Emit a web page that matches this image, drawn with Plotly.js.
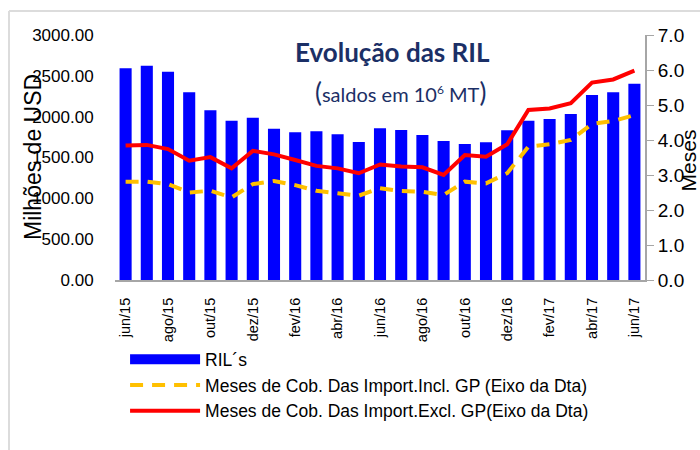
<!DOCTYPE html>
<html>
<head>
<meta charset="utf-8">
<script src="https://cdn.plot.ly/plotly-3.0.1.min.js"></script>
<style>html,body{margin:0;padding:0;background:#fff;}#chart{width:700px;height:450px;}</style>
</head>
<body>
<div id="chart"></div>
<script>
var months = ["jun/15","jul/15","ago/15","set/15","out/15","nov/15","dez/15","jan/16","fev/16","mar/16","abr/16","mai/16","jun/16","jul/16","ago/16","set/16","out/16","nov/16","dez/16","jan/17","fev/17","mar/17","abr/17","mai/17","jun/17"];
var tickMonths = ["jun/15","ago/15","out/15","dez/15","fev/16","abr/16","jun/16","ago/16","out/16","dez/16","fev/17","abr/17","jun/17"];
var ril = [2592,2624,2551,2298,2078,1951,1988,1853,1808,1820,1784,1690,1857,1837,1776,1702,1665,1686,1833,1951,1971,2033,2265,2298,2404];
var mesesIncl = [2.81,2.81,2.74,2.50,2.55,2.36,2.74,2.83,2.71,2.55,2.48,2.41,2.62,2.54,2.52,2.43,2.81,2.76,3.05,3.81,3.88,4.00,4.46,4.54,4.71];
var mesesExcl = [3.84,3.86,3.74,3.41,3.51,3.19,3.69,3.59,3.43,3.26,3.19,3.05,3.30,3.24,3.22,3.00,3.57,3.52,3.88,4.86,4.90,5.05,5.64,5.73,5.98];
var names = ["RIL´s","Meses de Cob. Das Import.Incl. GP (Eixo da Dta)","Meses de Cob. Das Import.Excl. GP(Eixo da Dta)"];

var sans = "Liberation Sans, Arial, sans-serif";
var navy = "#1b2f66";

var traces = [
  {type:"bar", x:months, y:ril, marker:{color:"#0000ff"}, showlegend:false, hoverinfo:"skip"},
  {type:"scatter", mode:"lines", x:[null], y:[null], name:names[0], line:{color:"#0000ff", width:11}, legendgroup:"a"},
  {type:"scatter", mode:"lines", x:months, y:mesesIncl, yaxis:"y2", name:names[1], line:{color:"#ffc000", width:4, dash:"13px,9px"}, legendgroup:"b"},
  {type:"scatter", mode:"lines", x:months, y:mesesExcl, yaxis:"y2", name:names[2], line:{color:"#ff0000", width:4}, legendgroup:"c"}
];

var layout = {
  width:700, height:450,
  margin:{l:115, r:55, t:35, b:170},
  paper_bgcolor:"#ffffff", plot_bgcolor:"#ffffff",
  bargap:0.43,
  showlegend:true,
  font:{family:sans, color:"#000"},
  xaxis:{type:"category", tickmode:"array", tickvals:tickMonths, ticktext:tickMonths, tickangle:-90,
    tickfont:{family:sans, size:14.5, color:"#000"}, ticks:"outside", ticklen:10, tickcolor:"rgba(0,0,0,0)",
    showline:true, linecolor:"#a6a6a6", linewidth:2, showgrid:false, zeroline:false, fixedrange:true},
  yaxis:{range:[0,3000], dtick:500, tickformat:".2f", tickfont:{family:sans, size:17, color:"#000"},
    ticks:"outside", ticklen:17, tickcolor:"rgba(0,0,0,0)", showgrid:false, zeroline:false, showline:false},
  yaxis2:{range:[0,7], dtick:1, tickformat:".1f", overlaying:"y", side:"right",
    tickfont:{family:sans, size:19, color:"#000"}, ticks:"outside", ticklen:7, tickcolor:"#a6a6a6",
    showline:true, linecolor:"#a6a6a6", linewidth:2, showgrid:false, zeroline:false},
  legend:{x:0.019, y:-0.25, xanchor:"left", yanchor:"top", orientation:"v", itemwidth:70,
    font:{family:sans, size:17.5, color:"#000"}, tracegroupgap:0, bgcolor:"rgba(0,0,0,0)"},
  annotations:[
    {xref:"paper", yref:"paper", x:0.5245, y:0.93, xanchor:"center", yanchor:"middle", showarrow:false,
      text:"<b>Evolução das RIL</b>", font:{family:"Lato, Open Sans, sans-serif", size:26, color:navy}},
    {xref:"paper", yref:"paper", x:0.538, y:0.767, xanchor:"center", yanchor:"middle", showarrow:false,
      text:"<span style='font-size:26px'>(</span>saldos em 10<sup><span style='font-size:12px'>6</span></sup> MT<span style='font-size:26px'>)</span>",
      font:{family:"Lato, Open Sans, sans-serif", size:20, color:navy}},
    {xref:"paper", yref:"paper", x:-0.1547, y:0.502, xanchor:"center", yanchor:"middle", showarrow:false,
      textangle:-90, text:"Milhões de USD", font:{family:sans, size:23, color:"#000"}},
    {xref:"paper", yref:"paper", x:1.082, y:0.49, xanchor:"center", yanchor:"middle", showarrow:false,
      textangle:-90, text:"Meses", font:{family:sans, size:21, color:"#000"}}
  ],
  shapes:[
    {type:"line", xref:"paper", yref:"paper", x0:-0.2, x1:-0.2, y0:1.098, y1:-0.7, line:{color:"#dcdcdc", width:2}},
    {type:"line", xref:"paper", yref:"paper", x0:-0.2, x1:1.11, y0:1.098, y1:1.098, line:{color:"#dcdcdc", width:2}}
  ]
};

Plotly.newPlot("chart", traces, layout, {displayModeBar:false, staticPlot:true});
</script>
</body>
</html>
